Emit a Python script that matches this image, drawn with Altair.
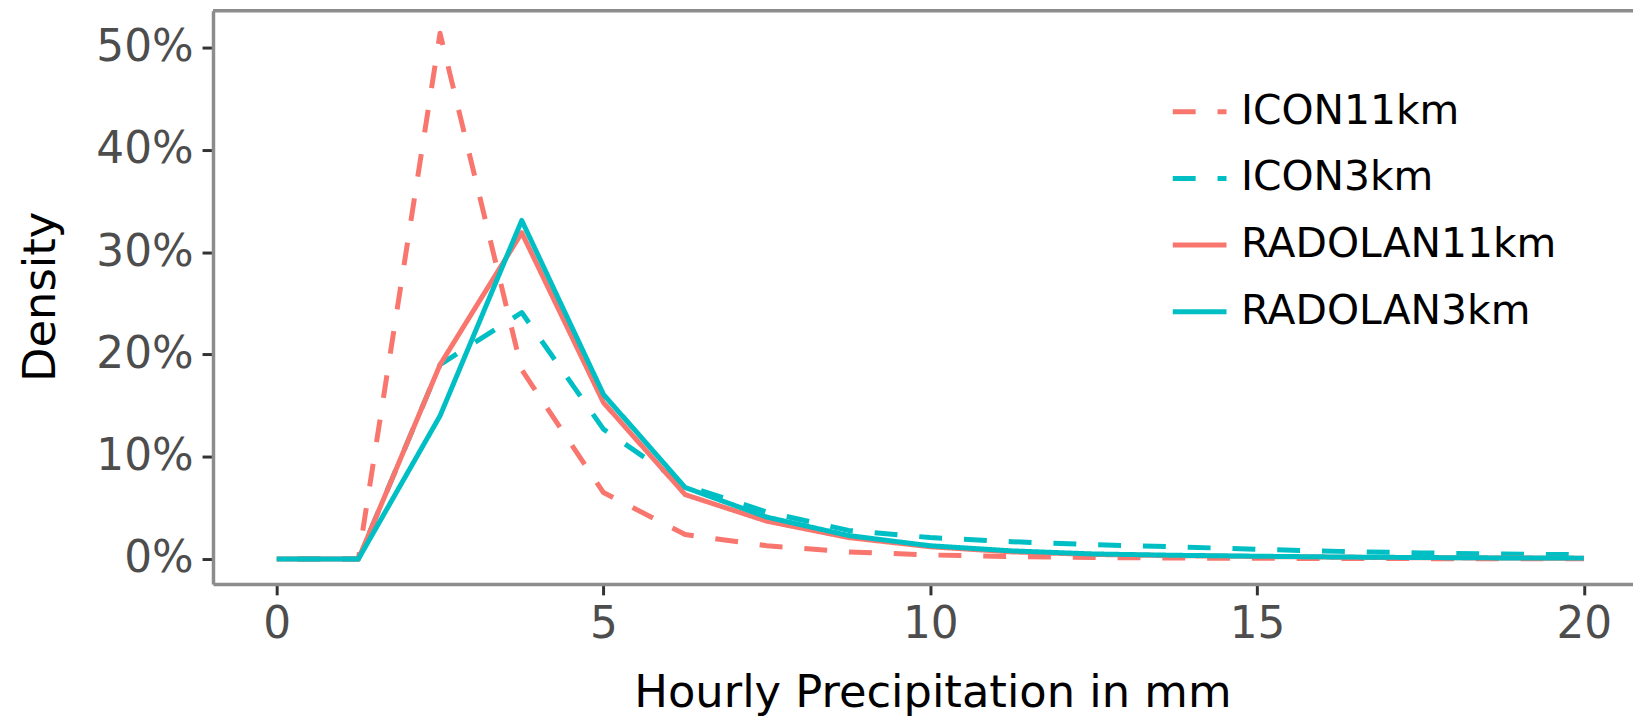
import altair as alt
import pandas as pd

# x positions (mm) of the density polygon
x_mm = [0, 1.25, 2.5, 3.75, 5, 6.25, 7.5, 8.75, 10, 11.25, 12.5, 13.75, 15, 16.25, 17.5, 18.75, 20]

# densities (fraction)
icon11 = [0, 0, 0.514, 0.185, 0.065, 0.024, 0.013, 0.007, 0.004, 0.0025, 0.0015, 0.001, 0.0007, 0.0005, 0.0004, 0.0003, 0.0002]
icon3 = [0, 0, 0.190, 0.241, 0.127, 0.072, 0.046, 0.028, 0.021, 0.017, 0.014, 0.012, 0.0095, 0.0075, 0.006, 0.005, 0.0042]
rad11 = [0, 0, 0.190, 0.319, 0.153, 0.063, 0.037, 0.021, 0.012, 0.007, 0.0045, 0.0033, 0.0025, 0.0018, 0.0013, 0.001, 0.0008]
rad3 = [0, 0, 0.140, 0.331, 0.161, 0.070, 0.041, 0.023, 0.013, 0.008, 0.005, 0.0037, 0.0028, 0.002, 0.0015, 0.0011, 0.0009]

series_names = ["ICON11km", "ICON3km", "RADOLAN11km", "RADOLAN3km"]
series_colors = ["#F8766D", "#00BFC4", "#F8766D", "#00BFC4"]
series_dash = [[23, 22], [23, 22], [1, 0], [1, 0]]

x_ticks = [0, 5, 10, 15, 20]
y_ticks = [0, 0.1, 0.2, 0.3, 0.4, 0.5]

rows = []
for name, vals in zip(series_names, [icon11, icon3, rad11, rad3]):
    for xv, yv in zip(x_mm, vals):
        rows.append({"series": name, "x": xv, "y": yv})
df = pd.DataFrame(rows)

W, H = 1427, 576
FONT = "DejaVu Sans"

legend = alt.Legend(
    title=None, orient="none", legendX=962, legendY=72,
    symbolType="stroke", symbolSize=2916, symbolStrokeWidth=5,
    labelFont=FONT, labelFontSize=41, labelColor="#000000", labelOffset=12,
    labelLimit=0, rowPadding=17, padding=0,
)

lines = alt.Chart(df).mark_line(strokeWidth=5, strokeJoin="round", strokeDashOffset=24, clip=True).encode(
    x=alt.X("x:Q",
            scale=alt.Scale(domain=[-0.974, 20.752], nice=False, zero=False),
            axis=alt.Axis(values=x_ticks, format="d", grid=False,
                          domainColor="#8c8c8c", domainWidth=3.5,
                          tickColor="#333333", tickWidth=3, tickSize=11,
                          labelFont=FONT, labelFontSize=44, labelColor="#4d4d4d",
                          labelPadding=8, labelFlush=False, labelOverlap=False,
                          title="Hourly Precipitation in mm", titleFont=FONT,
                          titleFontSize=45, titleFontWeight="normal", titleColor="#000000",
                          titleX=723, titleY=87, titleAlign="center")),
    y=alt.Y("y:Q",
            scale=alt.Scale(domain=[-0.0243, 0.536], nice=False, zero=False),
            axis=alt.Axis(values=y_ticks, format=".0%", grid=False,
                          domainColor="#8c8c8c", domainWidth=3.5,
                          tickColor="#333333", tickWidth=3, tickSize=11,
                          labelFont=FONT, labelFontSize=44, labelColor="#4d4d4d",
                          labelPadding=9, labelOverlap=False, labelFlush=False,
                          title="Density", titleFont=FONT, titleFontSize=45,
                          titleFontWeight="normal", titleColor="#000000",
                          titleX=-150, titleY=287)),
    color=alt.Color("series:N", scale=alt.Scale(domain=series_names, range=series_colors),
                    legend=legend),
    strokeDash=alt.StrokeDash("series:N", scale=alt.Scale(domain=series_names, range=series_dash),
                              legend=legend),
)

border = alt.Chart(pd.DataFrame({"a": [0]})).mark_rule(
    color="#8c8c8c", strokeWidth=3.5
).encode(x=alt.value(0), x2=alt.value(W), y=alt.value(0))

chart = alt.layer(lines, border).properties(
    width=W, height=H,
    autosize=alt.AutoSizeParams(type="none"),
    padding={"left": 206, "top": 1, "right": 0, "bottom": 135},
).configure_view(stroke=None).configure(background="white")

chart.save("out.html", embed_options={"renderer": "svg", "actions": False})
